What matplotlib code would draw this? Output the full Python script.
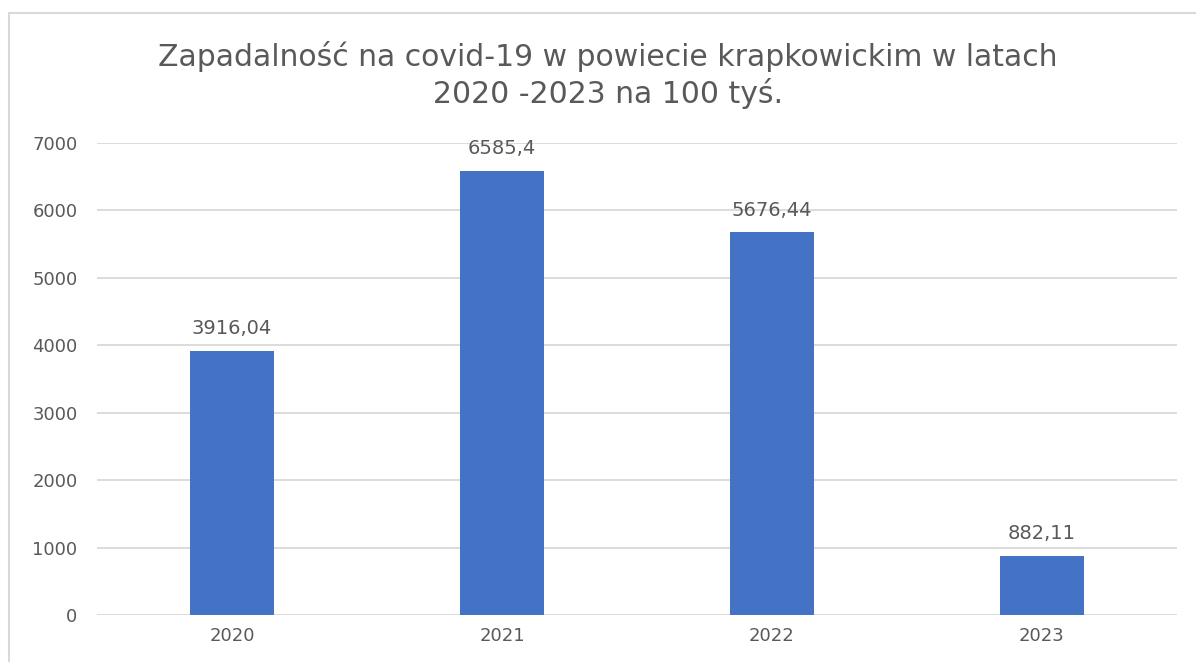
import matplotlib.pyplot as plt
from matplotlib.patches import Rectangle

# Zapadalność na covid-19, powiat krapkowicki (na 100 tys.)
years = ["2020", "2021", "2022", "2023"]
values = [3916.04, 6585.4, 5676.44, 882.11]
labels = ["3916,04", "6585,4", "5676,44", "882,11"]
yticks = [0, 1000, 2000, 3000, 4000, 5000, 6000, 7000]

plt.rcParams["font.family"] = ["DejaVu Sans"]
gray = "#595959"

fig = plt.figure(figsize=(11.96, 6.62), dpi=100)
ax = fig.add_axes([0.0811, 0.071, 0.903, 0.713])

x = range(len(years))
ax.bar(x, values, width=0.31, color="#4472C4", zorder=3)
for xi, v, lab in zip(x, values, labels):
    ax.annotate(lab, (xi, v), xytext=(0, 9), textcoords="offset points",
                ha="center", va="bottom", fontsize=14, color=gray)

ax.set_xlim(-0.5, len(years) - 0.5)
ax.set_ylim(0, 7000)
ax.set_yticks(yticks)
ax.set_xticks(list(x))
ax.set_xticklabels(years)
ax.grid(axis="y", color="#D9D9D9", linewidth=1.3, zorder=0)
ax.tick_params(length=0, labelsize=13, colors=gray, pad=14)
ax.tick_params(axis="x", pad=9)
for s in ax.spines.values():
    s.set_visible(False)

fig.text(0.508, 0.887, "Zapadalność na covid-19 w powiecie krapkowickim w latach\n2020 -2023 na 100 tyś.",
         ha="center", va="center", fontsize=21.5, color=gray, linespacing=1.25)

# ramka wykresu
fig.patches.append(Rectangle((9 / 1196, -0.05), 1.1, 1.05 - 13 / 662, transform=fig.transFigure,
                             fill=False, edgecolor="#D9D9D9", linewidth=1.5))

fig.savefig("out.png", dpi=100)
